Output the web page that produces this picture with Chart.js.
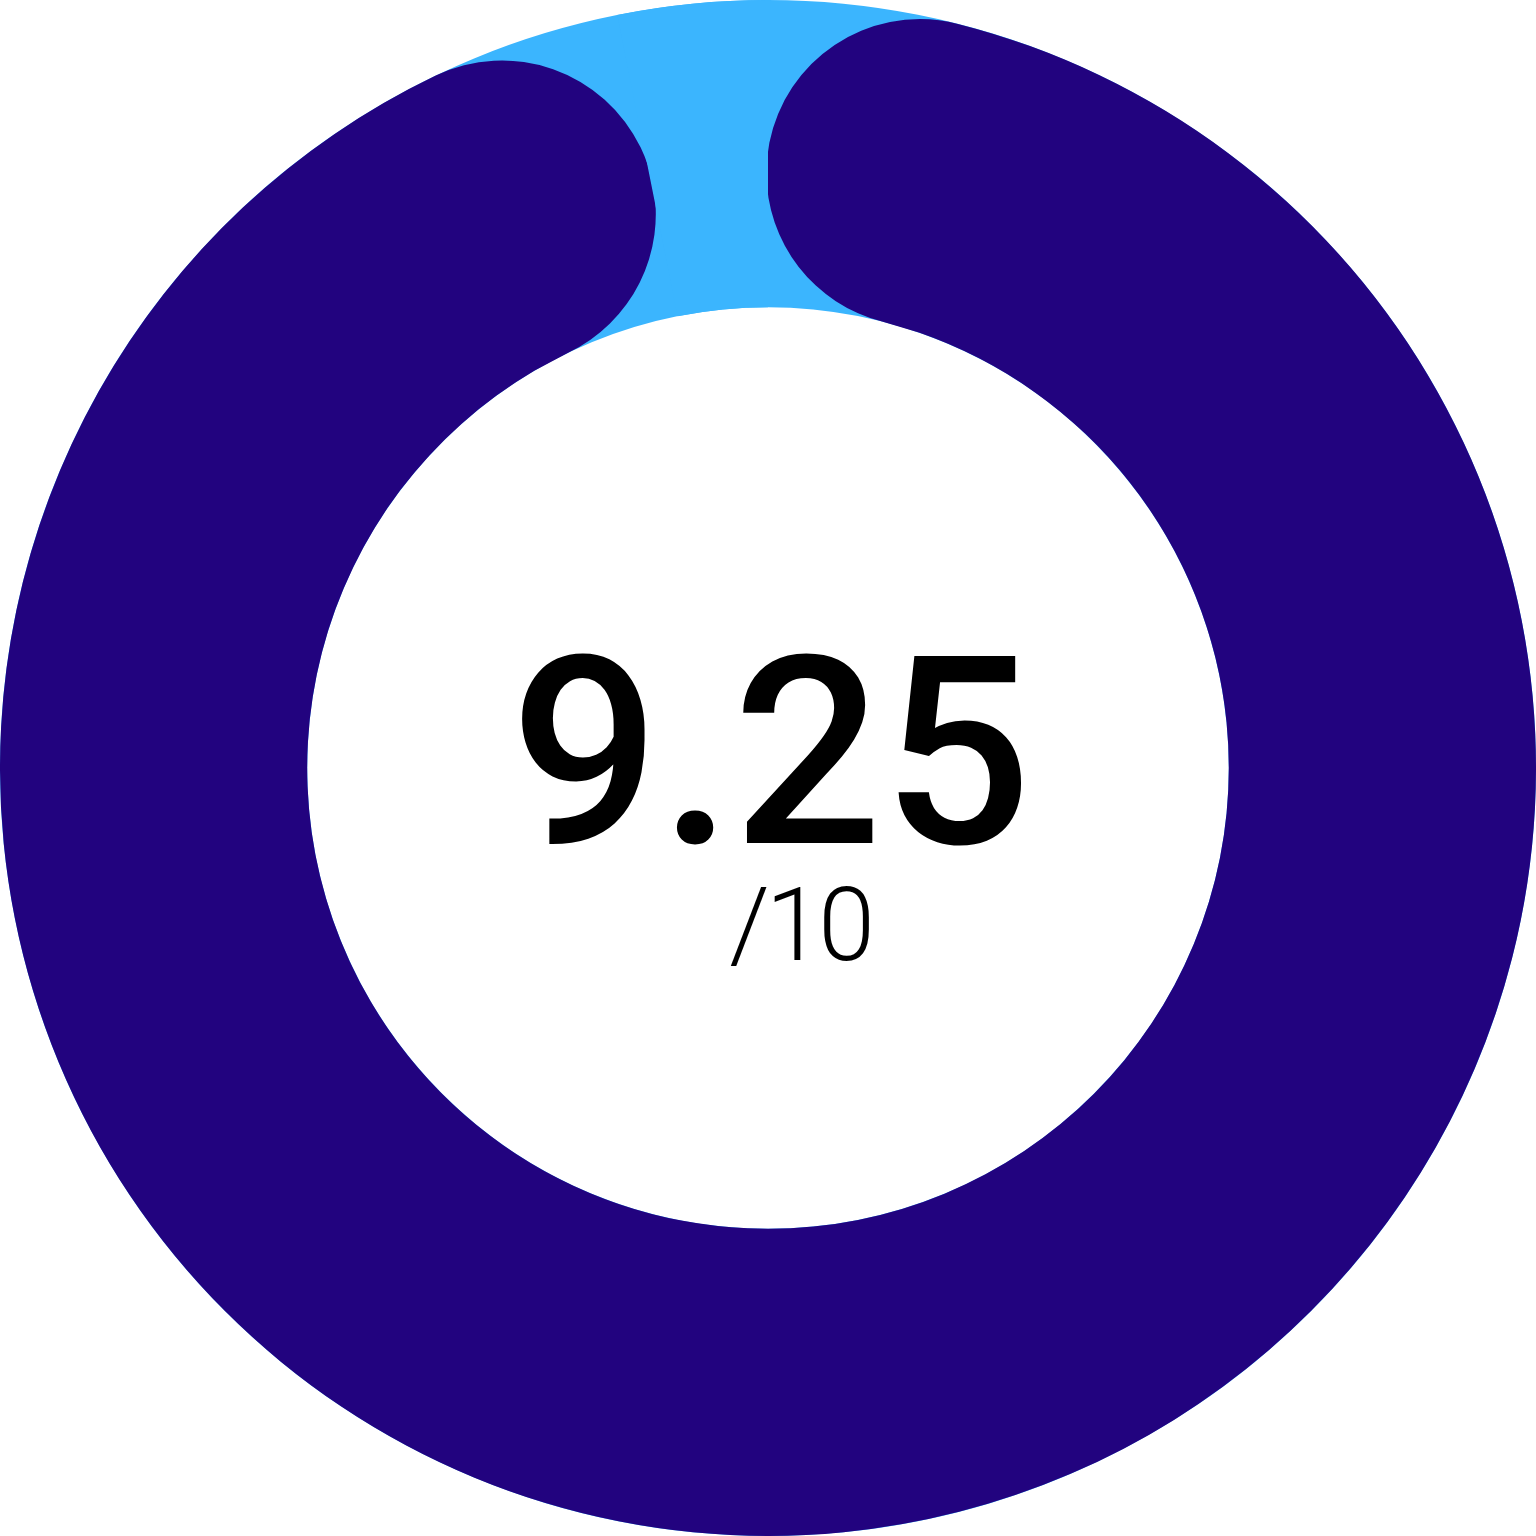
<!DOCTYPE html>
<html>
<head>
<meta charset="utf-8">
<title>Score</title>
<script src="https://cdn.jsdelivr.net/npm/chart.js@4.4.1/dist/chart.umd.min.js"></script>
<style>
  body { margin: 0; background: #ffffff; }
  #wrap { width: 1536px; height: 1536px; }
</style>
</head>
<body>
<div id="wrap"><canvas id="scoreDoughnut"></canvas></div>
<script>
// values
var scoreLabels = ["Score", "Gap"];
var scoreValues = [9.25, 0.3];
var scoreText = "9.25";
var scoreMaxText = "/10";

var navy = '#22037f';
var sky = '#3bb5fe';

// light blue track under the whole ring
var trackPlugin = {
    id: 'track',
    beforeDatasetsDraw: function (chart) {
        var arc = chart.getDatasetMeta(0).data[0];
        if (!arc) return;
        var ctx = chart.ctx;
        ctx.save();
        ctx.beginPath();
        ctx.arc(arc.x, arc.y, arc.outerRadius, 0, Math.PI * 2);
        ctx.arc(arc.x, arc.y, arc.innerRadius, 0, Math.PI * 2, true);
        ctx.fillStyle = sky;
        ctx.fill();
        ctx.restore();
    }
};

// score in the middle
var centerTextPlugin = {
    id: 'centerText',
    afterDatasetsDraw: function (chart) {
        var arc = chart.getDatasetMeta(0).data[0];
        if (!arc) return;
        var ctx = chart.ctx;
        ctx.save();
        ctx.fillStyle = '#000000';
        ctx.textAlign = 'center';
        ctx.textBaseline = 'alphabetic';
        ctx.font = '500 263px Roboto';
        ctx.fillText(scoreText, arc.x + 3, arc.y + 75);
        ctx.font = '300 102px Roboto';
        ctx.letterSpacing = '-4px';
        ctx.fillText(scoreMaxText, arc.x + 32, arc.y + 192);
        ctx.restore();
    }
};

var scoreChart = document.getElementById("scoreDoughnut");
var scoreChartDataConfig = {
        type: 'doughnut',
        data: {
            labels: scoreLabels,
            datasets: [{
                data: scoreValues,
                backgroundColor: [navy, sky],
                borderWidth: 0,
                borderRadius: [400, 0]
            }]
        },
        options: {
            responsive: true,
            maintainAspectRatio: false,
            animation: false,
            cutout: '60%',
            layout: { padding: 0 },
            plugins: {
                legend: { display: false },
                tooltip: { enabled: false }
            }
        },
        plugins: [trackPlugin, centerTextPlugin]
    };
var scoreChartObj = new Chart(scoreChart, scoreChartDataConfig);
</script>
</body>
</html>
